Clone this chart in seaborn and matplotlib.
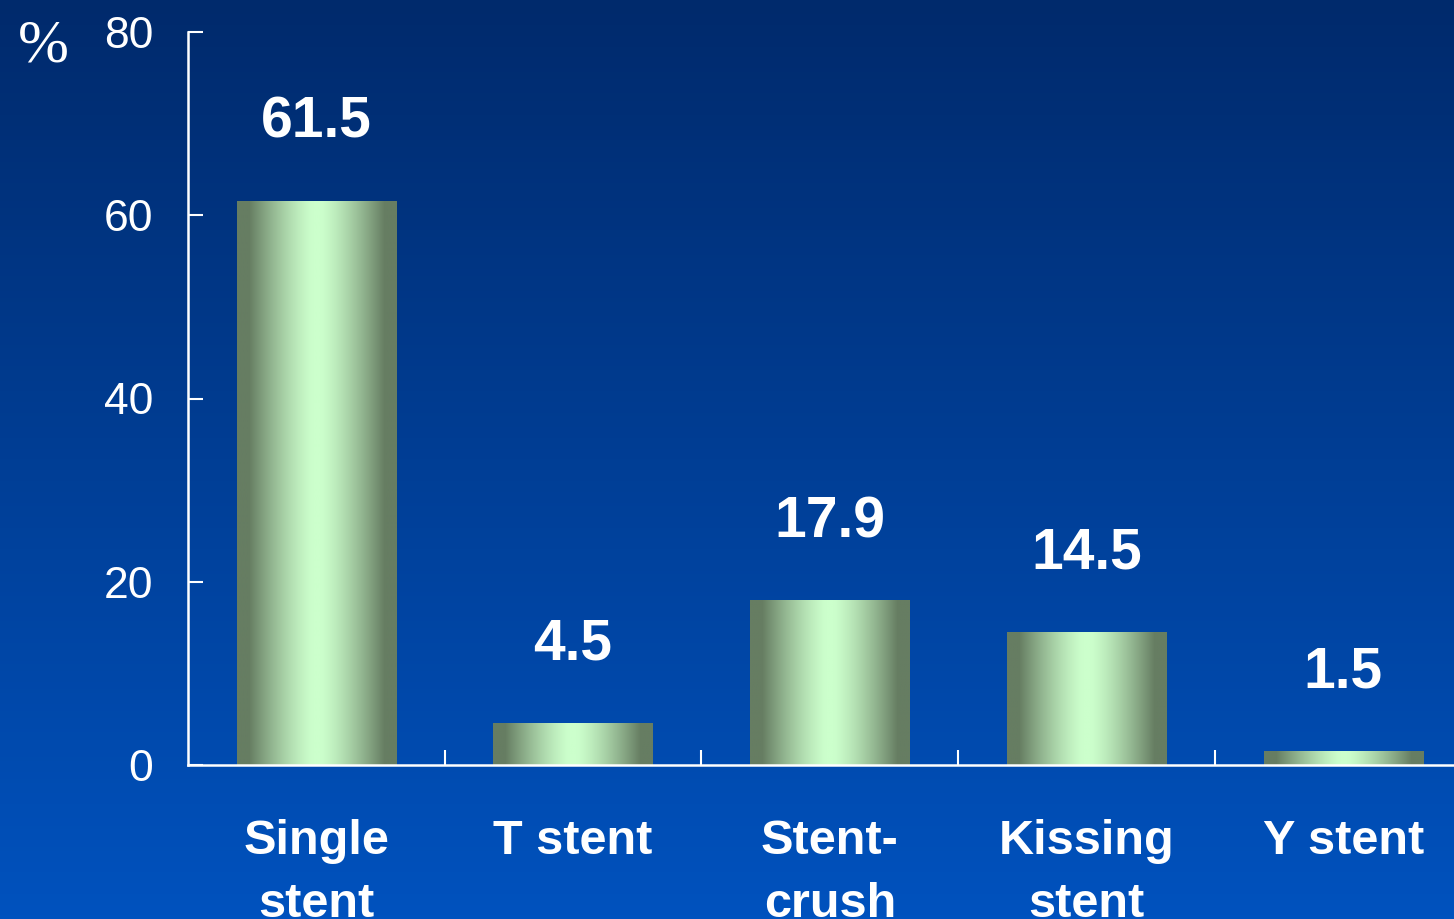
import numpy as np
import matplotlib
matplotlib.use("Agg")
import matplotlib.pyplot as plt
import seaborn as sns

# Stenting strategy distribution (%)
categories = ["Single\nstent", "T stent", "Stent-\ncrush", "Kissing\nstent", "Y stent"]
values = [61.5, 4.5, 17.9, 14.5, 1.5]
value_labels = ["61.5", "4.5", "17.9", "14.5", "1.5"]
y_ticks = [0, 20, 40, 60, 80]

sns.set_style("ticks")
plt.rcParams["font.family"] = ["Liberation Sans", "DejaVu Sans"]

W, H, DPI = 1454, 919, 100
fig = plt.figure(figsize=(W / DPI, H / DPI), dpi=DPI)

# vertical blue background gradient
bg = fig.add_axes([0, 0, 1, 1], zorder=-10)
top = np.array([0, 42, 108]) / 255
bot = np.array([0, 82, 190]) / 255
t = np.linspace(0, 1, 256)[:, None]
grad = top[None, :] * (1 - t) + bot[None, :] * t
bg.imshow(grad[:, None, :], aspect="auto", extent=[0, 1, 0, 1])
bg.set_axis_off()

ax = fig.add_axes([188 / W, 154 / H, (W - 188) / W, 733 / H])
ax.patch.set_alpha(0)

sns.barplot(x=list(range(len(values))), y=values, ax=ax, width=0.62,
            color="#9fc49a", edgecolor="none", saturation=1)

# horizontal metallic shading inside each bar
dark = np.array([102, 125, 98]) / 255
light = np.array([204, 255, 204]) / 255
u = np.linspace(0, 1, 200)
d = np.clip((np.abs(u - 0.5) * 2 - 0.05) / 0.8, 0, 1)
w = d ** 1.3
shade = light[None, :] * (1 - w[:, None]) + dark[None, :] * w[:, None]
for p in ax.patches:
    x0, wdt, h = p.get_x(), p.get_width(), p.get_height()
    p.set_facecolor("none")
    ax.imshow(shade[None, :, :], aspect="auto", extent=[x0, x0 + wdt, 0, h],
              zorder=2, interpolation="bilinear")

xmax = -0.5 + (W - 188) / 256.7
ax.set_xlim(-0.5, xmax)
ax.set_ylim(0, 80)

for i, (v, lab) in enumerate(zip(values, value_labels)):
    ax.annotate(lab, (i, v), xytext=(0, 46), textcoords="offset points",
                ha="center", va="baseline", color="white",
                fontsize=41, fontweight="bold")

for s in ["top", "right"]:
    ax.spines[s].set_visible(False)
for s in ["left", "bottom"]:
    ax.spines[s].set_color("white")
    ax.spines[s].set_linewidth(1.8)

ax.set_yticks(y_ticks)
ax.set_yticklabels([str(v) for v in y_ticks])
ax.tick_params(axis="y", direction="in", length=11, width=1.5, colors="white",
               labelsize=32, pad=25)

ax.set_xticks(range(len(categories)))
ax.set_xticklabels(categories, fontweight="bold", linespacing=1.5)
ax.tick_params(axis="x", which="major", length=0, colors="white",
               labelsize=35, pad=39)
ax.set_xticks(np.arange(0.5, len(categories) - 0.5, 1), minor=True)
ax.tick_params(axis="x", which="minor", direction="in", length=11, width=1.5,
               color="white")

fig.text(18 / W, 1 - 62 / H, "%", family=["Liberation Serif", "DejaVu Serif"],
         fontsize=44, color="white", ha="left", va="baseline")

ax.set_xlabel("")
ax.set_ylabel("")
fig.savefig("out.png", dpi=DPI)
